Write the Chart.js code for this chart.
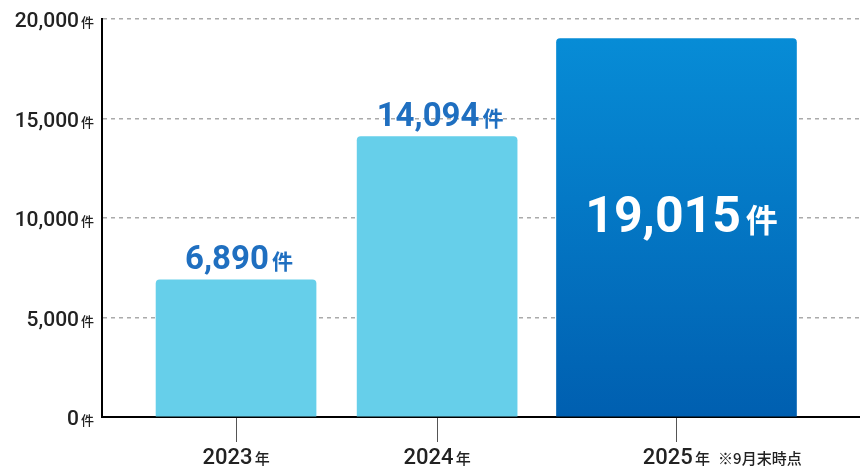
<!DOCTYPE html>
<html><head><meta charset="utf-8">
<script src="https://cdn.jsdelivr.net/npm/chart.js@4"></script>
<style>body{margin:0;background:#fff}#wrap{width:860px;height:474px}</style>
</head><body><div id="wrap"><canvas id="c"></canvas></div>
<script>
var years = ['2023', '2024', '2025'];
var counts = [6890, 14094, 19015];
var yearPos = [3.36, 8.4, 14.4];
var yTicks = [0, 5000, 10000, 15000, 20000];
var note = '※9月末時点';

var JP = '"Noto Sans CJK JP"';
var NUM = 'Roboto';

function fmt(v) { return v.toLocaleString('en-US'); }

// draw "number + small unit" with the given anchor
function mixed(ctx, num, unit, x, y, bigSize, smallSize, weight, color, align) {
  ctx.save();
  ctx.fillStyle = color;
  ctx.textBaseline = 'alphabetic';
  ctx.font = weight + ' ' + bigSize + 'px ' + NUM;
  var w1 = ctx.measureText(num).width;
  ctx.font = weight + ' ' + smallSize + 'px ' + JP;
  var w2 = ctx.measureText(unit).width;
  var gap = smallSize * 0.15;
  var total = w1 + gap + w2;
  var x0 = align === 'right' ? x - total : x - total / 2;
  ctx.font = weight + ' ' + bigSize + 'px ' + NUM;
  ctx.textAlign = 'left';
  ctx.fillText(num, x0, y);
  ctx.font = weight + ' ' + smallSize + 'px ' + JP;
  ctx.fillText(unit, x0 + w1 + gap, y);
  ctx.restore();
  return x0 + total;
}

var labelPlugin = {
  id: 'labels',
  afterDraw: function(chart) {
    var ctx = chart.ctx, ys = chart.scales.y, xs = chart.scales.x;
    yTicks.forEach(function(t) {
      mixed(ctx, fmt(t), '件', 94, ys.getPixelForValue(t) + 8, 21, 13, '500', '#222', 'right');
    });
    years.forEach(function(yr, i) {
      var x = xs.getPixelForValue(yearPos[i]);
      // tick mark under the axis
      ctx.save();
      ctx.strokeStyle = '#555';
      ctx.lineWidth = 1;
      ctx.beginPath();
      ctx.moveTo(Math.round(x) + 0.5, ys.bottom + 1);
      ctx.lineTo(Math.round(x) + 0.5, ys.bottom + 25);
      ctx.stroke();
      ctx.restore();
      var end = mixed(ctx, yr, '年', x, 464, 22, 15, '500', '#222', 'center');
      if (i === 2) {
        ctx.save();
        ctx.fillStyle = '#222';
        ctx.font = '500 15px ' + JP;
        ctx.textAlign = 'left';
        ctx.fillText(note, end + 8, 464);
        ctx.restore();
      }
      var top = ys.getPixelForValue(counts[i]);
      if (i < 2) {
        mixed(ctx, fmt(counts[i]), '件', x + 3, top - 11, 33, 21, '700', '#1f6fc0', 'center');
      } else {
        mixed(ctx, fmt(counts[i]), '件', x + 5, ys.getPixelForValue(9300), 50, 32, '700', '#ffffff', 'center');
      }
    });
  }
};

function bar2025(ctx) {
  var ch = ctx.chart, a = ch.chartArea;
  if (!a) return '#0a7fd0';
  var g = ch.ctx.createLinearGradient(0, ch.scales.y.getPixelForValue(counts[2]), 0, a.bottom);
  g.addColorStop(0, '#078cd6');
  g.addColorStop(1, '#005fb0');
  return g;
}

var widths = [160, 160, 240];
var datasets = years.map(function(yr, i) {
  return {
    label: yr,
    data: [{ x: yearPos[i], y: counts[i] }],
    backgroundColor: i === 2 ? bar2025 : '#66cfea',
    barThickness: widths[i],
    borderRadius: { topLeft: 4, topRight: 4 },
    borderSkipped: 'bottom',
    grouped: false
  };
});

new Chart(document.getElementById('c'), {
  type: 'bar',
  data: { datasets: datasets },
  plugins: [labelPlugin],
  options: {
    responsive: true, maintainAspectRatio: false, animation: false,
    layout: { padding: { top: 19, right: 0, left: 0, bottom: 0 } },
    plugins: { legend: { display: false }, tooltip: { enabled: false } },
    scales: {
      x: {
        type: 'linear', min: 0, max: 19, offset: false,
        ticks: { display: false },
        grid: { display: false, offset: false },
        border: { display: true, color: '#000', width: 2 },
        afterFit: function(s) { s.height = 57; }
      },
      y: {
        min: 0, max: 20000,
        afterBuildTicks: function(s) { s.ticks = yTicks.map(function(v) { return { value: v }; }); },
        ticks: { display: false },
        grid: {
          drawTicks: false,
          color: function(c) { return c.tick.value === 0 ? 'rgba(0,0,0,0)' : '#aaa'; },
          lineWidth: 1.5
        },
        border: { display: true, color: '#000', width: 2, dash: [4, 4] },
        afterFit: function(s) { s.width = 102; }
      }
    }
  }
});
</script>
</body></html>
